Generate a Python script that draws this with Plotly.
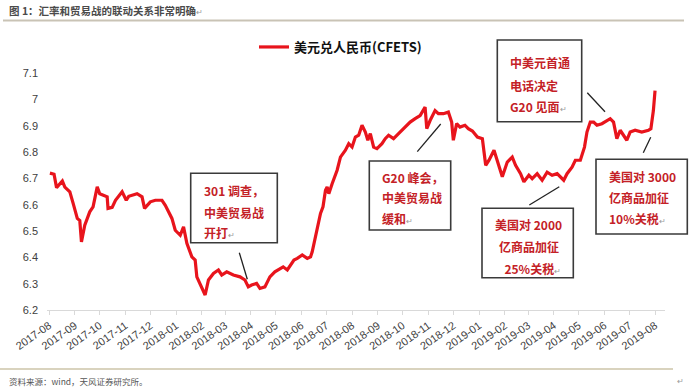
import plotly.graph_objects as go

# ---------------- data ----------------
dates = [
    "2017-08-02", "2017-08-07", "2017-08-10", "2017-08-17", "2017-08-20", "2017-08-26", "2017-08-30",
    "2017-09-04", "2017-09-07", "2017-09-09", "2017-09-13", "2017-09-19", "2017-09-23", "2017-09-28",
    "2017-10-01", "2017-10-10", "2017-10-11", "2017-10-16", "2017-10-20", "2017-10-28",
    "2017-11-02", "2017-11-05", "2017-11-15", "2017-11-21", "2017-11-24",
    "2017-12-01", "2017-12-07", "2017-12-15", "2017-12-19", "2017-12-23", "2017-12-27", "2017-12-31",
    "2018-01-06", "2018-01-10", "2018-01-14", "2018-01-20", "2018-01-24", "2018-01-26", "2018-01-30",
    "2018-02-01", "2018-02-05", "2018-02-09", "2018-02-15", "2018-02-21", "2018-02-25",
    "2018-03-03", "2018-03-11", "2018-03-19", "2018-03-25", "2018-03-29",
    "2018-04-02", "2018-04-08", "2018-04-12", "2018-04-18", "2018-04-24", "2018-04-30",
    "2018-05-04", "2018-05-10", "2018-05-15", "2018-05-19", "2018-05-23", "2018-05-27",
    "2018-06-02", "2018-06-08", "2018-06-12", "2018-06-14", "2018-06-18", "2018-06-22", "2018-06-24",
    "2018-06-27", "2018-06-30",
    "2018-07-02", "2018-07-04", "2018-07-08", "2018-07-14", "2018-07-18", "2018-07-24", "2018-07-28",
    "2018-08-01", "2018-08-05", "2018-08-09", "2018-08-13", "2018-08-17", "2018-08-20", "2018-08-23",
    "2018-08-27", "2018-08-31",
    "2018-09-06", "2018-09-10", "2018-09-14", "2018-09-20", "2018-09-26",
    "2018-10-02", "2018-10-10", "2018-10-16", "2018-10-22", "2018-10-28", "2018-10-30",
    "2018-11-03", "2018-11-09", "2018-11-13", "2018-11-19", "2018-11-25", "2018-11-29",
    "2018-12-01", "2018-12-05", "2018-12-09", "2018-12-15", "2018-12-19", "2018-12-24", "2018-12-30",
    "2019-01-05", "2019-01-09", "2019-01-13", "2019-01-19", "2019-01-23", "2019-01-29",
    "2019-02-04", "2019-02-10", "2019-02-14", "2019-02-20", "2019-02-24",
    "2019-03-02", "2019-03-06", "2019-03-12", "2019-03-18", "2019-03-24", "2019-03-30",
    "2019-04-05", "2019-04-13", "2019-04-17", "2019-04-23", "2019-04-27",
    "2019-05-03", "2019-05-08", "2019-05-11", "2019-05-15", "2019-05-19", "2019-05-23", "2019-05-29",
    "2019-06-04", "2019-06-08", "2019-06-12", "2019-06-16", "2019-06-20", "2019-06-24", "2019-06-28",
    "2019-07-02", "2019-07-08", "2019-07-16", "2019-07-24", "2019-07-27", "2019-07-30",
    "2019-08-01",
]
usdcny = [
    6.720, 6.716, 6.665, 6.690, 6.667, 6.649, 6.605,
    6.548, 6.540, 6.459, 6.522, 6.573, 6.592, 6.668,
    6.642, 6.630, 6.586, 6.590, 6.617, 6.649,
    6.617, 6.632, 6.642, 6.630, 6.586,
    6.611, 6.617, 6.617, 6.598, 6.573, 6.548, 6.503,
    6.484, 6.516, 6.453, 6.402, 6.390, 6.326, 6.301,
    6.282, 6.257, 6.314, 6.339, 6.352, 6.333,
    6.345, 6.333, 6.326, 6.314, 6.288,
    6.295, 6.301, 6.282, 6.288, 6.326, 6.345,
    6.352, 6.364, 6.352, 6.371, 6.390, 6.396,
    6.409, 6.396, 6.402, 6.421, 6.478, 6.529, 6.567,
    6.592, 6.655,
    6.668, 6.642, 6.680, 6.731, 6.781, 6.807, 6.832,
    6.819, 6.857, 6.864, 6.902, 6.876, 6.845, 6.870,
    6.819, 6.813,
    6.832, 6.851, 6.864, 6.851, 6.870,
    6.889, 6.914, 6.927, 6.939, 6.971, 6.889,
    6.920, 6.958, 6.946, 6.946, 6.952, 6.914,
    6.845, 6.908, 6.895, 6.902, 6.889, 6.880, 6.857,
    6.851, 6.750, 6.769, 6.807, 6.769, 6.706,
    6.762, 6.781, 6.750, 6.718, 6.687,
    6.712, 6.699, 6.718, 6.693, 6.724, 6.712,
    6.718, 6.693, 6.718, 6.743, 6.769,
    6.769, 6.819, 6.876, 6.914, 6.914, 6.902, 6.908,
    6.920, 6.927, 6.914, 6.851, 6.883, 6.864, 6.845,
    6.876, 6.883, 6.876, 6.883, 6.889, 6.958,
    7.034,
]
series_name = "美元兑人民币(CFETS)"
title_text = "图 1：汇率和贸易战的联动关系非常明确"
source_text = "资料来源：wind，天风证券研究所。"
y_ticks = [6.2, 6.3, 6.4, 6.5, 6.6, 6.7, 6.8, 6.9, 7.0, 7.1]
y_tick_labels = ["6.2", "6.3", "6.4", "6.5", "6.6", "6.7", "6.8", "6.9", "7", "7.1"]

# annotation boxes: lines of text
notes = [
    ["301 调查，", "中美贸易战", "开打"],
    ["G20 峰会，", "中美贸易战", "缓和"],
    ["中美元首通", "电话决定", "G20 见面"],
    ["美国对 2000", "亿商品加征", "  25%关税"],
    ["美国对 3000", "亿商品加征", "10%关税"],
]

# ---------------- layout geometry (pixels) ----------------
WIDTH, HEIGHT = 692, 391
L, R, T, B = 47, 27, 60, 81
PW = WIDTH - L - R
PH = HEIGHT - T - B


def px(x):
    return (x - L) / PW


def py(y):
    return (T + PH - y) / PH


CJK = "Noto Sans CJK SC, Microsoft YaHei, sans-serif"
RED_TXT = "#c42126"
PMARK = "<span style='color:#9a9a9a;font-size:8px'>↵</span>"

fig = go.Figure()
fig.add_trace(go.Scatter(
    x=dates, y=usdcny, mode="lines", name="<b>" + series_name + "</b>",
    line=dict(color="#e8141c", width=3.2),
))

shapes = []
annotations = []

# header / footer rules
shapes.append(dict(type="line", xref="paper", yref="paper", x0=px(3), x1=px(684),
                   y0=py(20.5), y1=py(20.5), line=dict(color="#c9c3b5", width=2)))
shapes.append(dict(type="line", xref="paper", yref="paper", x0=px(0), x1=px(673),
                   y0=py(369), y1=py(369), line=dict(color="#cdc4a8", width=1.5)))

annotations.append(dict(xref="paper", yref="paper", x=px(7), y=py(10), xanchor="left", yanchor="middle",
                        text="<b>" + title_text + "</b>" + PMARK, showarrow=False,
                        font=dict(family=CJK, size=10.5, color="#4a4a4a")))
annotations.append(dict(xref="paper", yref="paper", x=px(7), y=py(381), xanchor="left", yanchor="middle",
                        text=source_text, showarrow=False,
                        font=dict(family=CJK, size=8.5, color="#555555")))
annotations.append(dict(xref="paper", yref="paper", x=px(680), y=py(380), xanchor="center", yanchor="middle",
                        text=PMARK, showarrow=False, font=dict(family=CJK, size=8, color="#9a9a9a")))

# boxes: (left, top, right, bottom, text_x, line_ys, connector)
boxes = [
    (190.7, 173.3, 277.3, 242.7, [201.7, 201.7, 201.7], [190, 212, 232.5], (239.3, 252.7, 247.3, 279.3)),
    (369.3, 161.0, 450.7, 230.0, [380.0, 380.0, 380.0], [177, 197.5, 218], (417.3, 151.7, 440.7, 124.0)),
    (497.3, 40.0, 581.7, 121.7, [508.3, 508.3, 508.3], [62, 85, 106.5], (587.3, 92.7, 605.0, 111.7)),
    (482.0, 208.3, 573.3, 277.7, [493.3, 496.7, 496.7], [225, 246.5, 268], (529.3, 205.0, 559.3, 186.7)),
    (596.0, 159.3, 687.3, 234.0, [606.7, 606.7, 606.7], [176, 197, 218], (643.3, 152.7, 650.7, 137.3)),
]
for (x0, y0, x1, y1, txs, lys, conn), lines in zip(boxes, notes):
    shapes.append(dict(type="rect", xref="paper", yref="paper", x0=px(x0), x1=px(x1), y0=py(y1), y1=py(y0),
                       line=dict(color="#3a3a3a", width=1.6), fillcolor="white", layer="above"))
    shapes.append(dict(type="line", xref="paper", yref="paper", x0=px(conn[0]), y0=py(conn[1]),
                       x1=px(conn[2]), y1=py(conn[3]), line=dict(color="#222222", width=1.3)))
    for i, (tx, ly, t) in enumerate(zip(txs, lys, lines)):
        txt = "<b>" + t.replace(" ", "&nbsp;") + "</b>" + (PMARK if i == len(lines) - 1 else "")
        annotations.append(dict(xref="paper", yref="paper", x=px(tx), y=py(ly), xanchor="left",
                                yanchor="middle", text=txt, showarrow=False,
                                font=dict(family=CJK, size=12, color=RED_TXT)))

fig.update_layout(
    width=WIDTH, height=HEIGHT,
    margin=dict(l=L, r=R, t=T, b=B, autoexpand=False),
    paper_bgcolor="white", plot_bgcolor="white",
    font=dict(family=CJK, color="#404040"),
    showlegend=True,
    legend=dict(xref="container", yref="container", x=254 / WIDTH, y=1 - 47 / HEIGHT,
                xanchor="left", yanchor="middle", orientation="h",
                font=dict(family=CJK, size=13, color="#111111"), bgcolor="rgba(0,0,0,0)"),
    xaxis=dict(
        type="date", range=["2017-07-29 12:00", "2019-08-13"],
        dtick="M1", tick0="2017-08-01", tickformat="%Y-%m", tickangle=-35,
        tickfont=dict(family="Liberation Sans, Arial", size=11, color="#404040"),
        showgrid=False, zeroline=False, showline=True, linecolor="#d9d9d9", linewidth=1,
        ticks="outside", ticklen=4, tickcolor="#d9d9d9", automargin=False,
    ),
    yaxis=dict(
        range=[6.2, 7.15], tickvals=y_ticks, ticktext=y_tick_labels,
        tickfont=dict(family="Liberation Sans, Arial", size=11, color="#404040"),
        showgrid=False, zeroline=False, showline=False, ticks="", ticklabelstandoff=8,
        automargin=False,
    ),
    shapes=shapes,
    annotations=annotations,
)

fig.write_html(
    "out.html",
    config={"displayModeBar": False},
    post_script="document.body.style.margin='0';document.body.style.overflow='hidden';",
)
